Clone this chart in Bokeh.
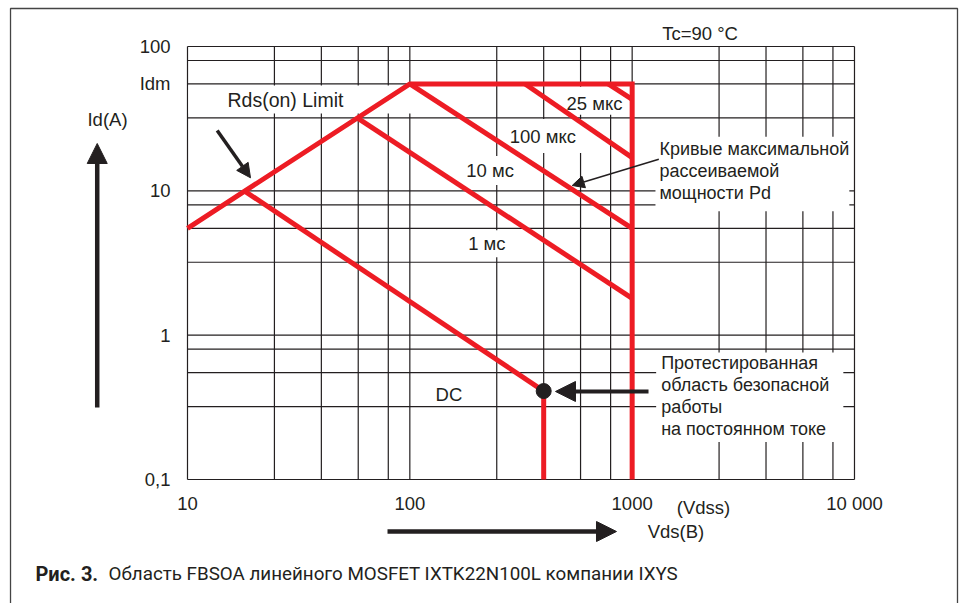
from bokeh.plotting import figure
from bokeh.models import Arrow, NormalHead, Range1d
from bokeh.embed import file_html
from bokeh.resources import INLINE
from bokeh.core.properties import value

# ---------------- data ----------------
x_tick_values = [10, 100, 1000, 10000]
x_tick_labels = ["10", "100", "1000", "10 000"]
y_tick_values = [0.1, 1, 10, 55, 100]
y_tick_labels = ["0,1", "1", "10", "Idm", "100"]
x_grid_values = [10, 24.6, 40, 58.6, 80, 100, 246, 400, 586, 800,
                 1000, 2460, 4000, 5860, 8000, 10000]
y_grid_values = [0.1, 0.32, 0.55, 0.8, 1, 3.2, 5.5, 8, 10, 32, 55, 80, 100]

# SOA boundary: Rds(on) limit -> Idm -> Vdss
boundary_vds = [10, 100, 1000, 1000]
boundary_id = [5.5, 55, 55, 0.1]

# max power dissipation curves
pulse_labels = ["25 мкс", "100 мкс", "10 мс", "1 мс", "DC"]
pulse_vds_start = [780, 330, 100, 58, 18]
pulse_id_start = [55, 55, 55, 32, 10]
pulse_vds_end = [1000, 1000, 1000, 1000, 400]
pulse_id_end = [43, 17, 5.5, 1.8, 0.41]

# tested DC point and its vertical limit
dc_vds = [400, 400]
dc_id = [0.41, 0.1]

# ---------------- style ----------------
DARK = "#231f20"
RED = "#ed1c24"
FONT = "Liberation Sans"
FS = "18.5px"
CAPTION_FONT = "Roboto"

# the frame spans the whole canvas so that the outer texts and arrows are not clipped
p = figure(width=959, height=603, x_axis_type="log", y_axis_type="log",
           x_range=Range1d(1.4418, 29670), y_range=Range1d(0.013831, 208.3),
           x_axis_location=None, y_axis_location=None,
           output_backend="svg", toolbar_location=None, min_border=0)
p.background_fill_color = "white"
p.border_fill_color = "white"
p.outline_line_color = None
p.grid.visible = False

# grid of the chart area
p.segment(x0=x_grid_values, y0=[y_grid_values[0]] * len(x_grid_values),
          x1=x_grid_values, y1=[y_grid_values[-1]] * len(x_grid_values),
          line_color=DARK, line_width=1.2)
p.segment(x0=[x_grid_values[0]] * len(y_grid_values), y0=y_grid_values,
          x1=[x_grid_values[-1]] * len(y_grid_values), y1=y_grid_values,
          line_color=DARK, line_width=1.2)

# tick labels
p.text(x=x_tick_values, y=[0.0682] * len(x_tick_values), text=x_tick_labels,
       text_font=value(FONT), text_font_size=FS, text_color=DARK,
       text_align="center", text_baseline="middle")
p.text(x=[8.386] * len(y_tick_values), y=y_tick_values, text=y_tick_labels,
       text_font=value(FONT), text_font_size=FS, text_color=DARK,
       text_align="right", text_baseline="middle")


def boxed_text(x, y, txt, padding, size=FS):
    # padding = (left, right, top, bottom); white box hides the grid behind the text
    p.text(x=[x], y=[y], text=[txt], text_font=value(FONT), text_font_size=size,
           text_color=DARK, text_align="left", text_baseline="middle",
           text_line_height=1.11,
           background_fill_color="white", padding=padding)


boxed_text(10.10, 42.94, "Rds(on) Limit", (39, 69, 4, 2), size="19.5px")
boxed_text(466.3, 42.12, pulse_labels[0], (8, 4, 6, 1))
boxed_text(264.6, 23.98, pulse_labels[1], (6, 6, 7, 6))
boxed_text(172.0, 13.83, pulse_labels[2], (4, 4, 4, 4))
boxed_text(175.6, 4.295, pulse_labels[3], (4, 4, 3, 3))
boxed_text(125.2, 0.3925, pulse_labels[4], (4, 4, 2, 0))
boxed_text(1273, 13.08, "Кривые максимальной\nрассеиваемой\nмощности Pd", (4, 0, 2, 8), size="18px")
boxed_text(1282, 0.3711, "Протестированная\nобласть безопасной\nработы\nна постоянном токе",
           (5, 14, 0, 3), size="18px")

# red SOA curves
p.line(boundary_vds, boundary_id, line_color=RED, line_width=5, line_join="miter")
p.segment(x0=pulse_vds_start, y0=pulse_id_start, x1=pulse_vds_end, y1=pulse_id_end,
          line_color=RED, line_width=5)
p.line(dc_vds, dc_id, line_color=RED, line_width=5)
p.scatter(x=[dc_vds[0]], y=[dc_id[0]], size=15, fill_color=DARK, line_color=DARK)


def arrow(x0, y0, x1, y1, lw, head):
    p.add_layout(Arrow(x_start=x0, y_start=y0, x_end=x1, y_end=y1,
                       line_color=DARK, line_width=lw,
                       end=NormalHead(size=head, fill_color=DARK, line_color=DARK, line_width=1)))


arrow(13.60, 26.18, 19.20, 12.31, 3.5, 14)      # Rds(on) pointer
arrow(1318, 16.56, 537.5, 10.89, 1.5, 12)       # power curves pointer
arrow(1184.6, 0.4072, 452.0, 0.4072, 4, 20)     # DC tested point pointer
arrow(3.926, 0.3154, 3.926, 21.28, 4.5, 20)     # Id axis arrow
arrow(79.36, 0.04362, 850.2, 0.04362, 4.5, 20)  # Vds axis arrow

# outer frame of the figure (top, left, right)
p.line([1.5994, 1.5994, 29060, 29060], [0.01, 183.4, 183.4, 0.01],
       line_color="#444444", line_width=1.3)


def label(x, y, txt, align="center", font=FONT, size=FS, style="normal"):
    p.text(x=[x], y=[y], text=[txt], text_align=align, text_baseline="middle",
           text_font=value(font), text_font_size=size, text_font_style=style,
           text_color=DARK)


label(4.367, 31.20, "Id(A)")
label(2019.5, 123.1, "Tc=90 °C")
label(2093.8, 0.06427, "(Vdss)")
label(1574.6, 0.04362, "Vds(B)")
label(2.071, 0.02232, "Рис. 3.", align="left", font=CAPTION_FONT, size="20px", style="bold")
label(4.412, 0.02232, "Область FBSOA линейного MOSFET IXTK22N100L компании IXYS",
      align="left", font=CAPTION_FONT, size="18.8px")

open("out.html", "w").write(file_html(p, INLINE))
